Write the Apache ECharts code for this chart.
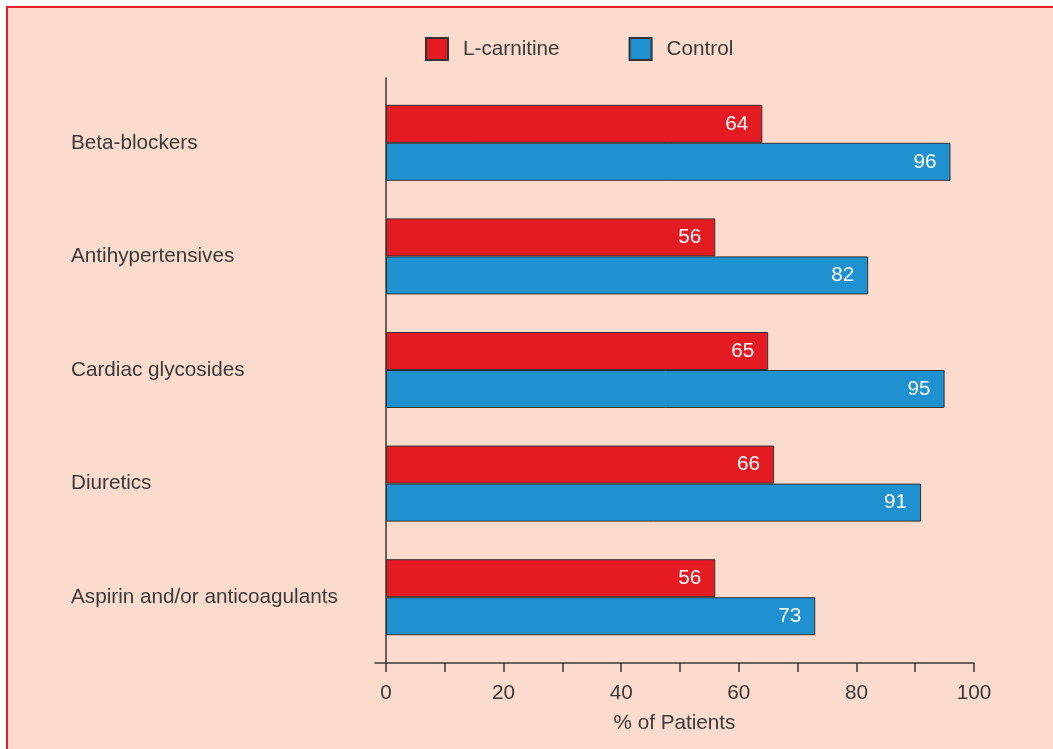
<!DOCTYPE html>
<html>
<head>
<meta charset="utf-8">
<script src="https://cdn.jsdelivr.net/npm/echarts@6/dist/echarts.min.js"></script>
<style>
  html, body { margin: 0; padding: 0; background: #ffffff; overflow: hidden; }
  #frame {
    position: absolute; left: 6px; top: 6px; width: 1100px; height: 800px;
    background: #fadbce; border-top: 2px solid #e3202a; border-left: 2px solid #e3202a;
  }
  #chart { position: absolute; left: 0; top: 0; width: 1053px; height: 749px; }
</style>
</head>
<body>
<div id="frame"></div>
<div id="chart"></div>
<script>
// Medication use by treatment group
const categories = ['Beta-blockers', 'Antihypertensives', 'Cardiac glycosides', 'Diuretics', 'Aspirin and/or anticoagulants'];
const lCarnitine = [64, 56, 65, 66, 56];
const control = [96, 82, 95, 91, 73];
const tickValues = [0, 10, 20, 30, 40, 50, 60, 70, 80, 90, 100];
const tickLabels = [0, 20, 40, 60, 80, 100];

const FONT = '"Liberation Sans", Arial, Helvetica, sans-serif';
const TEXT = '#3a3a3a';
const AXIS = '#3a3a3a';
const FS = 20.7;

const chart = echarts.init(document.getElementById('chart'), null, { renderer: 'canvas' });

const barLabel = {
  show: true, position: 'insideRight', distance: 14,
  color: '#ffffff', fontSize: FS, fontFamily: FONT
};

chart.setOption({
  backgroundColor: 'transparent',
  animation: false,
  textStyle: { fontFamily: FONT },
  legend: {
    left: 425, top: 37,
    itemWidth: 22, itemHeight: 22, itemGap: 69,
    icon: 'rect',
    padding: 0,
    textStyle: { fontSize: FS, color: TEXT, fontFamily: FONT, padding: [0, 0, 0, 10] },
    data: ['L-carnitine', 'Control']
  },
  grid: [
    // bars
    { left: 386, right: 79, top: 86, bottom: 95 },
    // axis frame
    { left: 375, right: 79, top: 78, bottom: 86 }
  ],
  xAxis: [
    { gridIndex: 0, type: 'value', min: 0, max: 100, show: false },
    {
      gridIndex: 1, type: 'value', min: -1.871, max: 100,
      name: '% of Patients', nameLocation: 'middle', nameGap: 50,
      nameTextStyle: { fontSize: FS, color: TEXT, fontFamily: FONT },
      axisLine: { show: true, onZero: false, lineStyle: { color: AXIS, width: 1.5 } },
      axisTick: { show: true, length: 9, customValues: tickValues, lineStyle: { color: AXIS, width: 1.5 } },
      axisLabel: { customValues: tickLabels, fontSize: FS, color: TEXT, fontFamily: FONT, margin: 20 },
      splitLine: { show: false }
    }
  ],
  yAxis: [
    {
      gridIndex: 0, type: 'category', data: categories, inverse: true,
      axisLine: { show: false }, axisTick: { show: false },
      axisLabel: { align: 'left', margin: 315, fontSize: FS, color: TEXT, fontFamily: FONT }
    },
    {
      gridIndex: 1, type: 'value', min: 0, max: 1,
      axisLine: { show: true, lineStyle: { color: AXIS, width: 1.5 } },
      axisTick: { show: false }, axisLabel: { show: false }, splitLine: { show: false }
    }
  ],
  series: [
    {
      name: 'L-carnitine', type: 'bar', xAxisIndex: 0, yAxisIndex: 0,
      data: lCarnitine, barWidth: 38, barGap: '0%',
      itemStyle: { color: '#e51b24', borderColor: '#333333', borderWidth: 1 },
      label: barLabel
    },
    {
      name: 'Control', type: 'bar', xAxisIndex: 0, yAxisIndex: 0,
      data: control, barWidth: 38, barGap: '0%',
      itemStyle: { color: '#1f90d0', borderColor: '#333333', borderWidth: 1 },
      label: barLabel
    }
  ]
});
</script>
</body>
</html>
